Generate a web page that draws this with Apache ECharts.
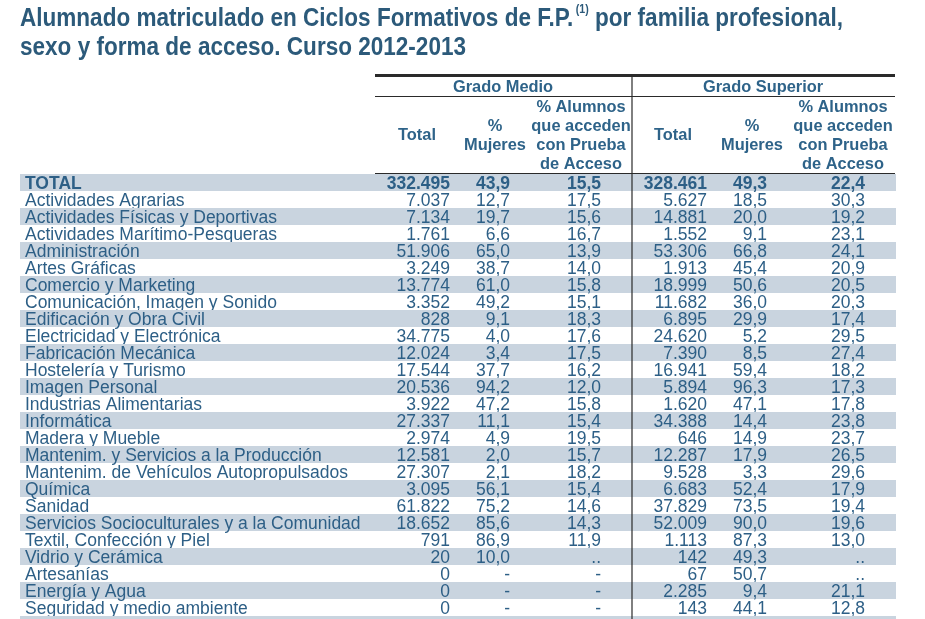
<!DOCTYPE html>
<html><head><meta charset="utf-8">
<script src="https://cdn.jsdelivr.net/npm/echarts@6/dist/echarts.min.js"></script>
<style>html,body{margin:0;padding:0;background:#fff}#c{width:925px;height:619px}</style>
</head><body><div id="c"></div>
<script>
const categories = ["TOTAL","Actividades Agrarias","Actividades Físicas y Deportivas","Actividades Marítimo-Pesqueras","Administración","Artes Gráficas","Comercio y Marketing","Comunicación, Imagen y Sonido","Edificación y Obra Civil","Electricidad y Electrónica","Fabricación Mecánica","Hostelería y Turismo","Imagen Personal","Industrias Alimentarias","Informática","Madera y Mueble","Mantenim. y Servicios a la Producción","Mantenim. de Vehículos Autopropulsados","Química","Sanidad","Servicios Socioculturales y a la Comunidad","Textil, Confección y Piel","Vidrio y Cerámica","Artesanías","Energía y Agua","Seguridad y medio ambiente",""];
const gmTotal   = [332495,7037,7134,1761,51906,3249,13774,3352,828,34775,12024,17544,20536,3922,27337,2974,12581,27307,3095,61822,18652,791,20,0,0,0,null];
const gmMujeres = [43.9,12.7,19.7,6.6,65.0,38.7,61.0,49.2,9.1,4.0,3.4,37.7,94.2,47.2,11.1,4.9,2.0,2.1,56.1,75.2,85.6,86.9,10.0,"-","-","-",null];
const gmPrueba  = [15.5,17.5,15.6,16.7,13.9,14.0,15.8,15.1,18.3,17.6,17.5,16.2,12.0,15.8,15.4,19.5,15.7,18.2,15.4,14.6,14.3,11.9,"..","-","-","-",null];
const gsTotal   = [328461,5627,14881,1552,53306,1913,18999,11682,6895,24620,7390,16941,5894,1620,34388,646,12287,9528,6683,37829,52009,1113,142,67,2285,143,null];
const gsMujeres = [49.3,18.5,20.0,9.1,66.8,45.4,50.6,36.0,29.9,5.2,8.5,59.4,96.3,47.1,14.4,14.9,17.9,3.3,52.4,73.5,90.0,87.3,49.3,50.7,9.4,44.1,null];
const gsPrueba  = [22.4,30.3,19.2,23.1,24.1,20.9,20.5,20.3,17.4,29.5,27.4,18.2,17.3,17.8,23.8,23.7,26.5,29.6,17.9,19.4,19.6,13.0,"..","..",21.1,12.8,null];
const groupLabels = ["Grado Medio","Grado Superior"];
const colHeaders = ["Total","%\nMujeres","% Alumnos\nque acceden\ncon Prueba\nde Acceso"];
const titleLine1a = "Alumnado matriculado en Ciclos Formativos de F.P.";
const titleSup = "(1)";
const titleLine1b = " por familia profesional,";
const titleLine2 = "sexo y forma de acceso. Curso 2012-2013";

// layout (style constants)
const TXT = '#2d5f86', SHADE = '#c9d4df', LINE = '#2a2a2a', TITLE = '#2c5a7a', HDR = '#2e6389';
const colRight = [450, 510, 601, 707, 767, 865];
const FONT = '"Liberation Sans", Arial, sans-serif';
const ROWFONT = 17.5;

function fmtInt(v){ return String(v).replace(/\B(?=(\d{3})+(?!\d))/g, '.'); }
function fmtPct(v){ return typeof v === 'number' ? v.toFixed(1).replace('.', ',') : v; }

const rows = categories.map((c, i) => [i, c,
  gmTotal[i] == null ? '' : fmtInt(gmTotal[i]),
  gmMujeres[i] == null ? '' : fmtPct(gmMujeres[i]),
  gmPrueba[i] == null ? '' : fmtPct(gmPrueba[i]),
  gsTotal[i] == null ? '' : fmtInt(gsTotal[i]),
  gsMujeres[i] == null ? '' : fmtPct(gsMujeres[i]),
  gsPrueba[i] == null ? '' : fmtPct(gsPrueba[i])]);

const chart = echarts.init(document.getElementById('c'), null, {renderer: 'canvas'});

function renderRow(params, api) {
  const i = api.value(0);
  const p0 = api.coord([20, i]);
  const p1 = api.coord([896, i]);
  const h = api.size([0, 1])[1];
  const y = p0[1];
  const bold = i === 0;
  const children = [];
  if (i % 2 === 0) {
    children.push({type: 'rect', shape: {x: p0[0], y: y - h / 2, width: p1[0] - p0[0], height: h}, style: {fill: SHADE}});
  }
  const font = (bold ? 'bold ' : '') + ROWFONT + 'px ' + FONT;
  const lp = api.coord([25, i]);
  children.push({type: 'text', style: {text: rows[i][1], x: lp[0], y: y + 1.5, align: 'left', verticalAlign: 'middle', font: font, fill: TXT}});
  for (let k = 0; k < 6; k++) {
    const cp = api.coord([colRight[k], i]);
    children.push({type: 'text', style: {text: rows[i][2 + k], x: cp[0], y: y + 1.5, align: 'right', verticalAlign: 'middle', font: font, fill: TXT}});
  }
  const sp = api.coord([632, i]);
  children.push({type: 'line', shape: {x1: sp[0], y1: y - h / 2, x2: sp[0], y2: y + h / 2}, style: {stroke: LINE, lineWidth: 1.2}});
  return {type: 'group', children: children};
}

// title: horizontally condensed bold sans, fitted to the reference line width
const TFS = 25.5, SFS = 12;
const cv = document.createElement('canvas').getContext('2d');
cv.font = 'bold ' + TFS + 'px ' + FONT;
let w1 = cv.measureText(titleLine1a + titleLine1b).width;
cv.font = 'bold ' + SFS + 'px ' + FONT;
w1 += cv.measureText(titleSup).width + 3;
const tScale = 823 / w1;

const hdrFont = 'bold 16.4px ' + FONT;
const graphics = [
  {type: 'text', z: 10, x: 20, y: 4, scaleX: tScale, style: {
    text: titleLine1a + '{sup|' + titleSup + '}' + titleLine1b, x: 0, y: 0, align: 'left', verticalAlign: 'top',
    font: 'bold ' + TFS + 'px ' + FONT, fill: TITLE, lineHeight: 29,
    rich: {sup: {fontSize: SFS, fontWeight: 'bold', fontFamily: FONT, fill: TITLE, verticalAlign: 'top', padding: [0, 0, 0, 3], lineHeight: 22}}}},
  {type: 'text', z: 10, x: 20, y: 33, scaleX: tScale, style: {
    text: titleLine2, x: 0, y: 0, align: 'left', verticalAlign: 'top',
    font: 'bold ' + TFS + 'px ' + FONT, fill: TITLE, lineHeight: 29}},
  {type: 'line', z: 10, shape: {x1: 375, y1: 75.5, x2: 895, y2: 75.5}, style: {stroke: LINE, lineWidth: 3}},
  {type: 'line', z: 10, shape: {x1: 375, y1: 96.5, x2: 895, y2: 96.5}, style: {stroke: LINE, lineWidth: 1}},
  {type: 'line', z: 10, shape: {x1: 375, y1: 173.5, x2: 895, y2: 173.5}, style: {stroke: LINE, lineWidth: 1}},
  {type: 'line', z: 10, shape: {x1: 632, y1: 74, x2: 632, y2: 174}, style: {stroke: LINE, lineWidth: 1.2}},
  {type: 'text', z: 10, style: {text: groupLabels[0], x: 503, y: 87, align: 'center', verticalAlign: 'middle', font: hdrFont, fill: HDR}},
  {type: 'text', z: 10, style: {text: groupLabels[1], x: 763, y: 87, align: 'center', verticalAlign: 'middle', font: hdrFont, fill: HDR}}
];
const hx = [417, 495, 581, 673, 752, 843];
for (let k = 0; k < 6; k++) {
  graphics.push({type: 'text', z: 10, style: {text: colHeaders[k % 3], x: hx[k], y: 135.5, align: 'center', verticalAlign: 'middle', font: hdrFont, lineHeight: 19, fill: HDR}});
}

chart.setOption({
  animation: false,
  grid: {left: 0, top: 174, width: 925, height: (categories.length - 1) * 17, containLabel: false},
  xAxis: {type: 'value', min: 0, max: 925, show: false},
  yAxis: {type: 'value', inverse: true, min: -0.5, max: categories.length - 1.5, show: false},
  graphic: graphics,
  series: [{type: 'custom', renderItem: renderRow, data: rows, encode: {x: -1, y: 0}, clip: false, silent: true}]
});
</script></body></html>
